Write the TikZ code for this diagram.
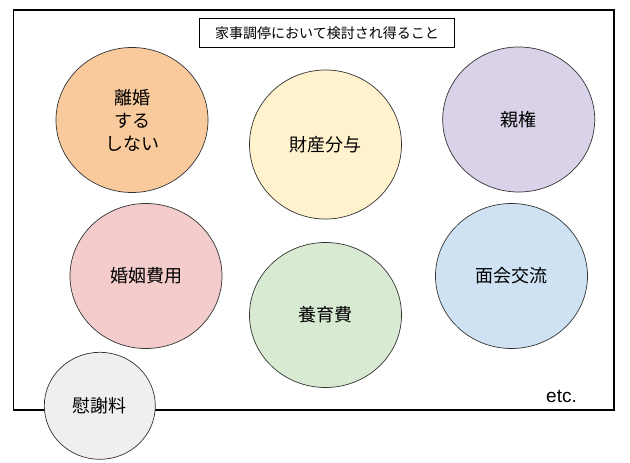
\documentclass[tikz,border=0pt]{standalone}
\usepackage{fontspec}
\setmainfont{Noto Sans CJK JP}
\newfontfamily\latinfont{Liberation Sans}
\usetikzlibrary{shapes.geometric}
\definecolor{cOrange}{HTML}{F9CB9C}
\definecolor{cYellow}{HTML}{FFF2CC}
\definecolor{cPurple}{HTML}{D9D2E9}
\definecolor{cPink}{HTML}{F4CCCC}
\definecolor{cGreen}{HTML}{D9EAD3}
\definecolor{cBlue}{HTML}{CFE2F3}
\definecolor{cGray}{HTML}{EFEFEF}
\definecolor{cEdge}{HTML}{333333}
\tikzset{
  topic/.style={ellipse, draw=cEdge, line width=0.7bp, inner sep=0pt,
    minimum width=152bp, minimum height=145bp, align=center,
    font=\fontsize{18bp}{23bp}\selectfont},
  frame/.style={draw=black, line width=1.1bp},
  titlebox/.style={draw=black, line width=0.9bp, minimum width=255bp, minimum height=29bp,
    inner sep=0pt, font=\fontsize{14bp}{16bp}\selectfont},
}
\begin{document}
\begin{tikzpicture}[x=1bp,y=-1bp]
\useasboundingbox (0,0) rectangle (630,463);
\draw[frame] (13.5,10) rectangle (614,410);
\node[titlebox] (title) at (327,33) {家事調停において検討され得ること};
\node[topic, fill=cOrange] (rikon) at (132,120) {離婚\\する\\しない};
\node[topic, fill=cYellow, minimum height=149bp] (zaisan) at (325.5,144.5) {財産分与};
\node[topic, fill=cPurple] (shinken) at (518.7,119.5) {親権};
\node[topic, fill=cPink] (konin) at (146,276) {婚姻費用};
\node[topic, fill=cGreen] (yoiku) at (325.5,315) {養育費};
\node[topic, fill=cBlue] (menkai) at (511.5,276) {面会交流};
\node[topic, fill=cGray, minimum width=111bp, minimum height=107bp] (isha) at (99.8,405.8) {慰謝料};
\node[font=\latinfont\fontsize{19bp}{22bp}\selectfont, inner sep=0pt] (etc) at (561.5,396) {etc.};
\end{tikzpicture}
\end{document}
